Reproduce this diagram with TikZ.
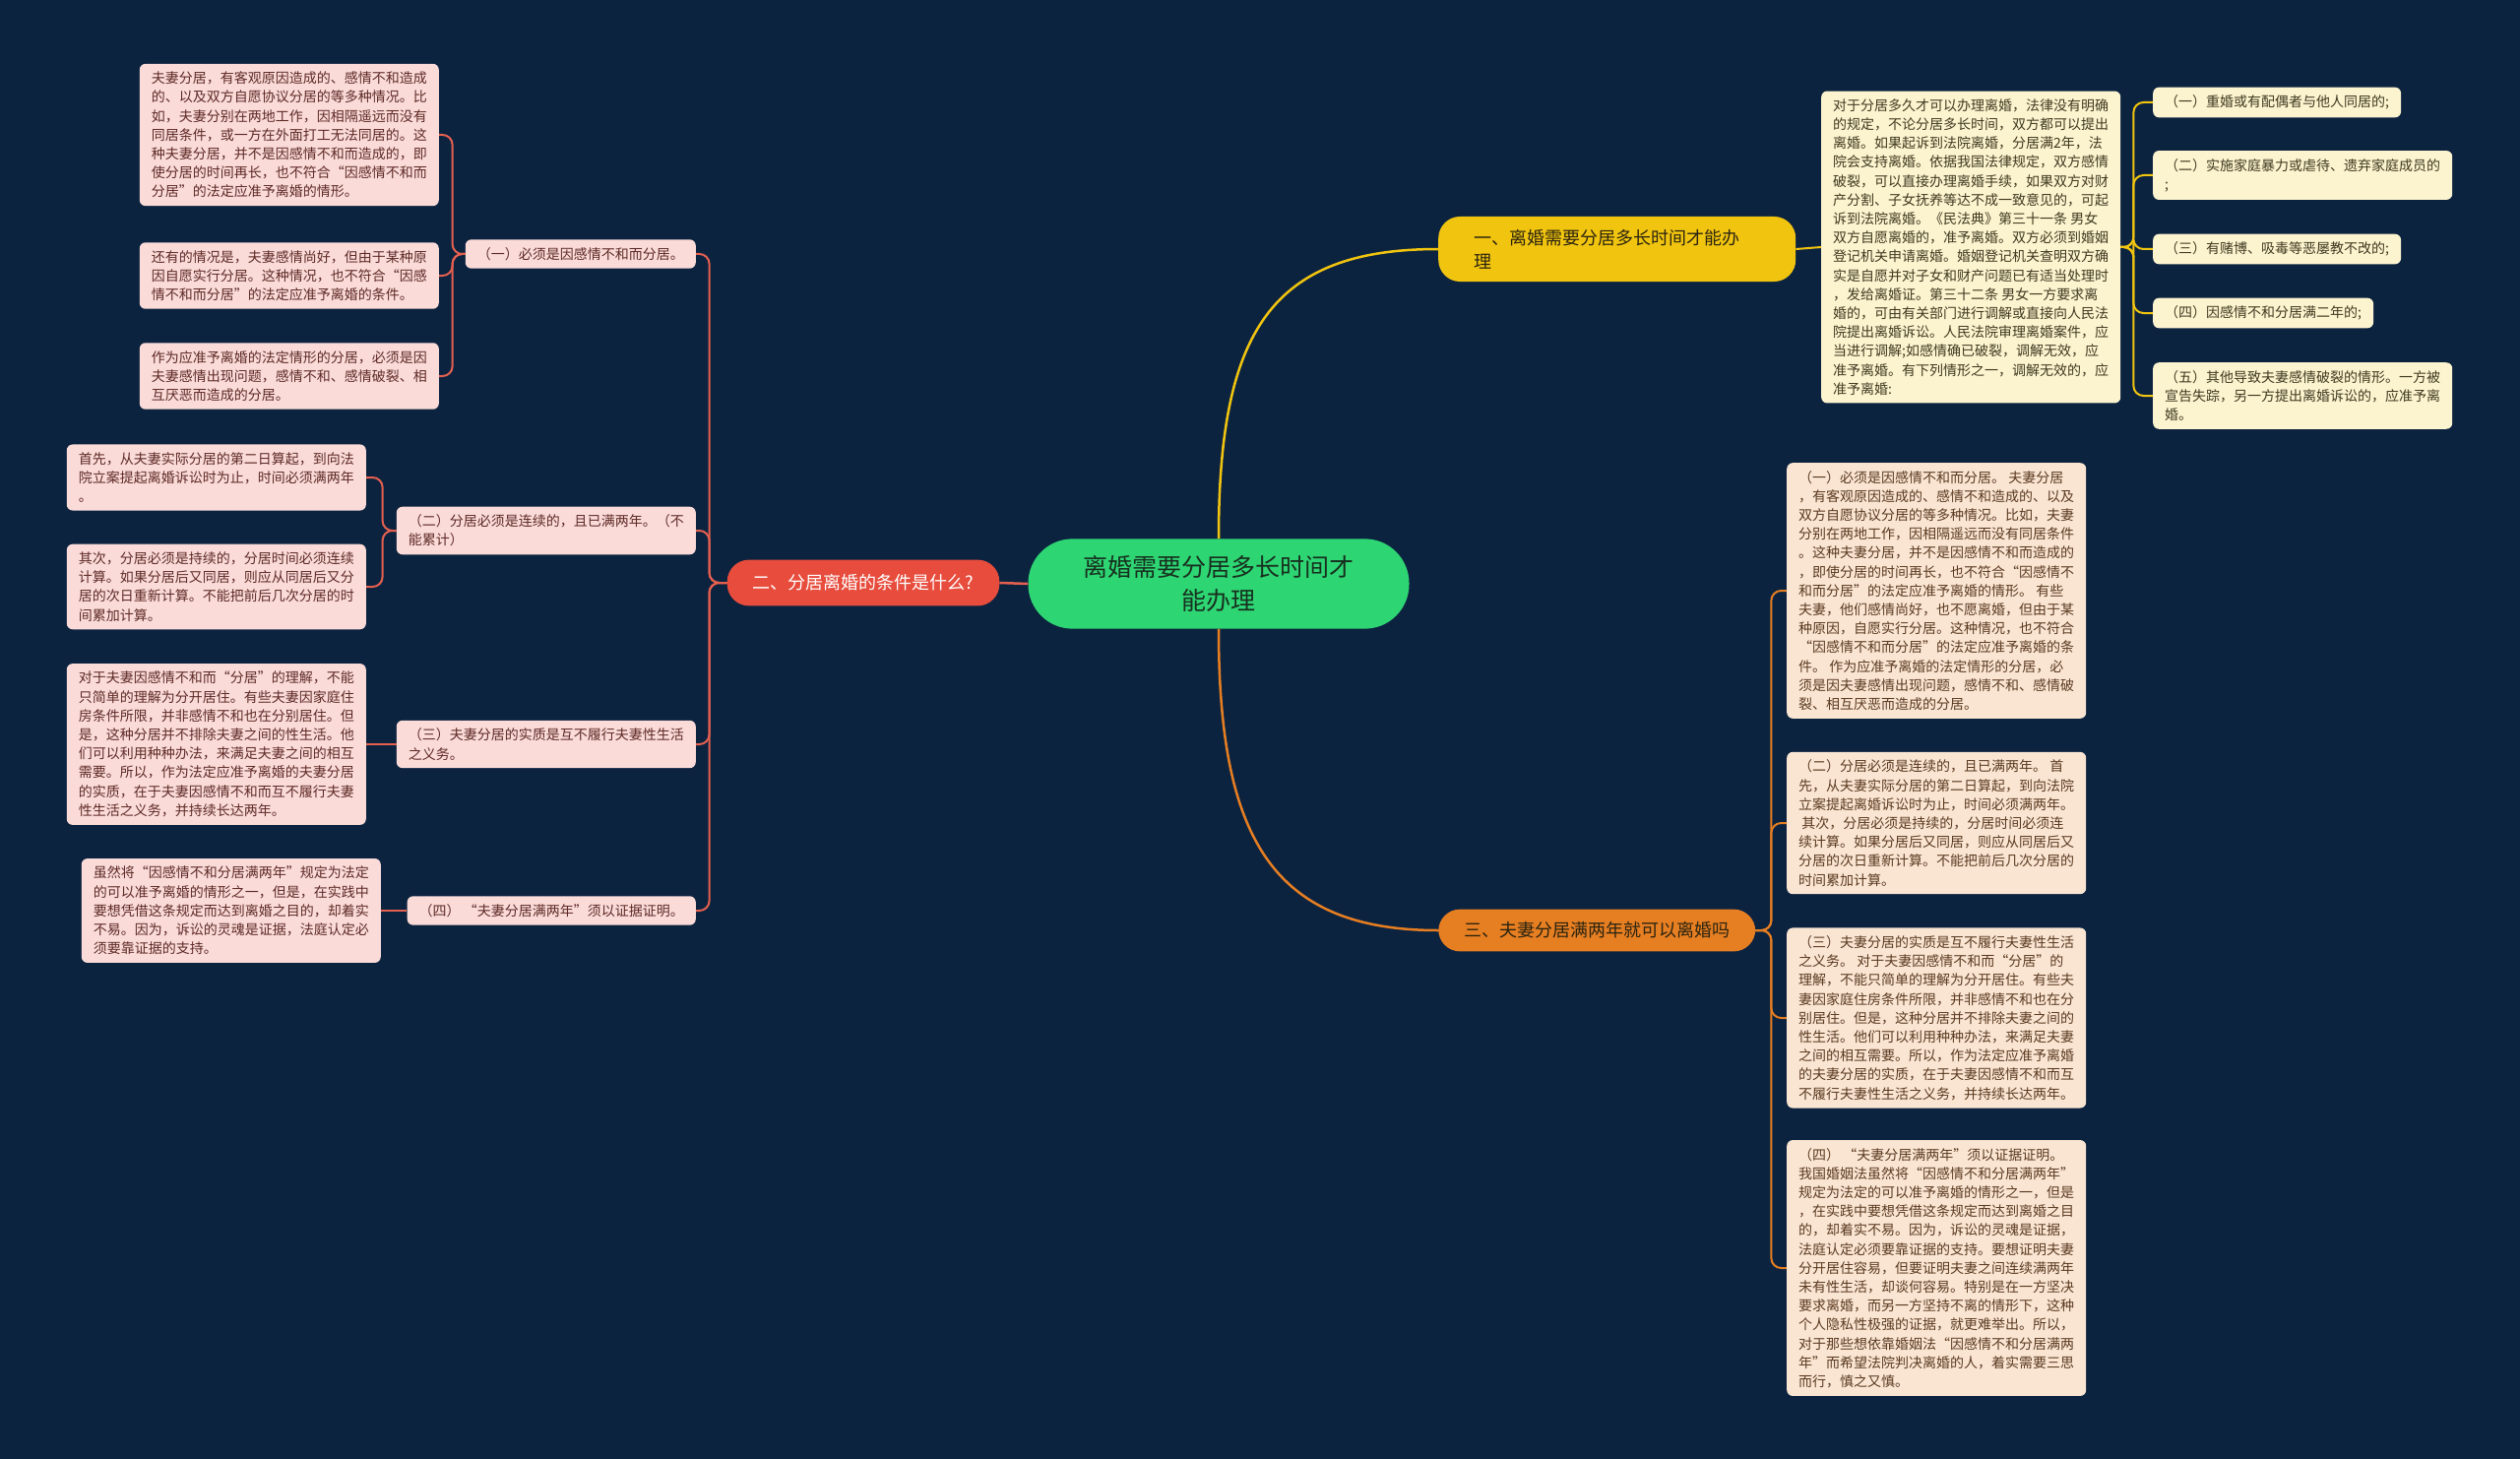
\documentclass[tikz,border=0pt]{standalone}
\usepackage{fontspec}
\setmainfont{Noto Sans CJK SC}
\usepackage{xcolor}
\usepackage{tikz}
\usetikzlibrary{positioning, calc}

\definecolor{bgnavy}{HTML}{0C2340}
\definecolor{rootgreen}{HTML}{2ED573}
\definecolor{rootink}{HTML}{17301F}
\definecolor{topicyellow}{HTML}{F1C40F}
\definecolor{topicred}{HTML}{E74C3C}
\definecolor{topicorange}{HTML}{E67E22}
\definecolor{topicink}{HTML}{2B2410}
\definecolor{fillpink}{HTML}{FADBD8}
\definecolor{fillcream}{HTML}{FCF3CF}
\definecolor{fillpeach}{HTML}{FAE5D3}
\definecolor{inkpink}{HTML}{5E2A26}
\definecolor{inkcream}{HTML}{3F3A20}
\definecolor{inkpeach}{HTML}{5A3A20}
\definecolor{linered}{HTML}{E4604F}

\begin{document}
\begin{tikzpicture}[x=1pt, y=-1pt,
    rootbox/.style={fill=rootgreen, text=rootink, rounded corners=45pt, align=center,
        inner xsep=56pt, inner ysep=17pt, font=\fontsize{25pt}{34pt}\selectfont},
    topicbox/.style={rounded corners=22pt, align=left, inner xsep=26pt, inner ysep=14pt,
        font=\fontsize{18pt}{24pt}\selectfont},
    notebox/.style={rounded corners=6pt, align=left, inner xsep=12pt, inner ysep=8pt,
        font=\fontsize{14pt}{19.2pt}\selectfont},
    pinkbox/.style={notebox, fill=fillpink, text=inkpink},
    creambox/.style={notebox, fill=fillcream, text=inkcream},
    peachbox/.style={notebox, fill=fillpeach, text=inkpeach},
    redline/.style={draw=linered, line width=2pt, rounded corners=10pt},
    yellowline/.style={draw=topicyellow, line width=2pt, rounded corners=10pt},
    orangeline/.style={draw=topicorange, line width=2pt, rounded corners=10pt}
]
    % Background
    \fill[bgnavy] (0,0) rectangle (2560,1482);

    % Root and topics
    \node[rootbox] (root) at (1238,593) {离婚需要分居多长时间才\\能办理};
    \node[topicbox, fill=topicyellow, text=topicink, text width=291pt, inner xsep=36pt,
        inner ysep=13pt, anchor=west] (b1) at (1461,253) {一、离婚需要分居多长时间才能办\\理};
    \node[topicbox, fill=topicred, text=white, inner ysep=15pt] (b2) at (877,592) {二、分居离婚的条件是什么?};
    \node[topicbox, fill=topicorange, text=topicink, inner ysep=13pt, anchor=west] (b3) at (1461,945) {三、夫妻分居满两年就可以离婚吗};

    \draw[topicyellow, line width=2.5pt] (root.north) .. controls +(0,-210) and +(-170,0) .. (b1.west);
    \draw[linered, line width=2.5pt] (root.west) -- (b2.east);
    \draw[topicorange, line width=2.5pt] (root.south) .. controls +(0,210) and +(-170,0) .. (b3.west);

    % Branch one
    \node[creambox, anchor=west] (t1) at (1850,251) {对于分居多久才可以办理离婚，法律没有明确\\的规定，不论分居多长时间，双方都可以提出\\离婚。如果起诉到法院离婚，分居满2年，法\\院会支持离婚。依据我国法律规定，双方感情\\破裂，可以直接办理离婚手续，如果双方对财\\产分割、子女抚养等达不成一致意见的，可起\\诉到法院离婚。《民法典》第三十一条 男女\\双方自愿离婚的，准予离婚。双方必须到婚姻\\登记机关申请离婚。婚姻登记机关查明双方确\\实是自愿并对子女和财产问题已有适当处理时\\，发给离婚证。第三十二条 男女一方要求离\\婚的，可由有关部门进行调解或直接向人民法\\院提出离婚诉讼。人民法院审理离婚案件，应\\当进行调解;如感情确已破裂，调解无效，应\\准予离婚。有下列情形之一，调解无效的，应\\准予离婚:};
    \node[creambox, anchor=west] (r1) at (2187,104) {（一）重婚或有配偶者与他人同居的;};
    \node[creambox, anchor=west] (r2) at (2187,178) {（二）实施家庭暴力或虐待、遗弃家庭成员的\\;};
    \node[creambox, anchor=west] (r3) at (2187,253) {（三）有赌博、吸毒等恶屡教不改的;};
    \node[creambox, anchor=west] (r4) at (2187,318) {（四）因感情不和分居满二年的;};
    \node[creambox, anchor=west] (r5) at (2187,402) {（五）其他导致夫妻感情破裂的情形。一方被\\宣告失踪，另一方提出离婚诉讼的，应准予离\\婚。};

    \draw[yellowline] (b1.east) -- (t1.west);
    \foreach \n in {r1,r2,r3,r4,r5}
        \draw[yellowline] (t1.east) -- ++(13,0) |- (\n.west);

    % Branch two
    \node[pinkbox, anchor=east] (l1) at (707,258) {（一）必须是因感情不和而分居。};
    \node[pinkbox, anchor=east] (l2) at (707,539) {（二）分居必须是连续的，且已满两年。（不\\能累计）};
    \node[pinkbox, anchor=east] (l3) at (707,756) {（三）夫妻分居的实质是互不履行夫妻性生活\\之义务。};
    \node[pinkbox, anchor=east] (l4) at (707,925) {（四） “夫妻分居满两年”须以证据证明。};

    \node[pinkbox, anchor=east] (l1a) at (446,137) {夫妻分居，有客观原因造成的、感情不和造成\\的、以及双方自愿协议分居的等多种情况。比\\如，夫妻分别在两地工作，因相隔遥远而没有\\同居条件，或一方在外面打工无法同居的。这\\种夫妻分居，并不是因感情不和而造成的，即\\使分居的时间再长，也不符合“因感情不和而\\分居”的法定应准予离婚的情形。};
    \node[pinkbox, anchor=east] (l1b) at (446,280) {还有的情况是，夫妻感情尚好，但由于某种原\\因自愿实行分居。这种情况，也不符合“因感\\情不和而分居”的法定应准予离婚的条件。};
    \node[pinkbox, anchor=east] (l1c) at (446,382) {作为应准予离婚的法定情形的分居，必须是因\\夫妻感情出现问题，感情不和、感情破裂、相\\互厌恶而造成的分居。};
    \node[pinkbox, anchor=east] (l2a) at (372,485) {首先，从夫妻实际分居的第二日算起，到向法\\院立案提起离婚诉讼时为止，时间必须满两年\\。};
    \node[pinkbox, anchor=east] (l2b) at (372,596) {其次，分居必须是持续的，分居时间必须连续\\计算。如果分居后又同居，则应从同居后又分\\居的次日重新计算。不能把前后几次分居的时\\间累加计算。};
    \node[pinkbox, anchor=east] (l3a) at (372,756) {对于夫妻因感情不和而“分居”的理解，不能\\只简单的理解为分开居住。有些夫妻因家庭住\\房条件所限，并非感情不和也在分别居住。但\\是，这种分居并不排除夫妻之间的性生活。他\\们可以利用种种办法，来满足夫妻之间的相互\\需要。所以，作为法定应准予离婚的夫妻分居\\的实质，在于夫妻因感情不和而互不履行夫妻\\性生活之义务，并持续长达两年。};
    \node[pinkbox, anchor=east] (l4a) at (387,925) {虽然将“因感情不和分居满两年”规定为法定\\的可以准予离婚的情形之一，但是，在实践中\\要想凭借这条规定而达到离婚之目的，却着实\\不易。因为，诉讼的灵魂是证据，法庭认定必\\须要靠证据的支持。};

    \foreach \n in {l1,l2,l3,l4}
        \draw[redline] (b2.west) -- ++(-18,0) |- (\n.east);
    \foreach \n in {l1a,l1b,l1c}
        \draw[redline] (l1.west) -- ++(-13,0) |- (\n.east);
    \foreach \n in {l2a,l2b}
        \draw[redline] (l2.west) -- ++(-14,0) |- (\n.east);
    \draw[redline] (l3.west) -- (l3a.east);
    \draw[redline] (l4.west) -- (l4a.east);

    % Branch three
    \node[peachbox, anchor=west] (s1) at (1815,600) {（一）必须是因感情不和而分居。 夫妻分居\\，有客观原因造成的、感情不和造成的、以及\\双方自愿协议分居的等多种情况。比如，夫妻\\分别在两地工作，因相隔遥远而没有同居条件\\。这种夫妻分居，并不是因感情不和而造成的\\，即使分居的时间再长，也不符合“因感情不\\和而分居”的法定应准予离婚的情形。 有些\\夫妻，他们感情尚好，也不愿离婚，但由于某\\种原因，自愿实行分居。这种情况，也不符合\\“因感情不和而分居”的法定应准予离婚的条\\件。 作为应准予离婚的法定情形的分居，必\\须是因夫妻感情出现问题，感情不和、感情破\\裂、相互厌恶而造成的分居。};
    \node[peachbox, anchor=west] (s2) at (1815,836) {（二）分居必须是连续的，且已满两年。 首\\先，从夫妻实际分居的第二日算起，到向法院\\立案提起离婚诉讼时为止，时间必须满两年。\\\ 其次，分居必须是持续的，分居时间必须连\\续计算。如果分居后又同居，则应从同居后又\\分居的次日重新计算。不能把前后几次分居的\\时间累加计算。};
    \node[peachbox, anchor=west] (s3) at (1815,1034) {（三）夫妻分居的实质是互不履行夫妻性生活\\之义务。 对于夫妻因感情不和而“分居”的\\理解，不能只简单的理解为分开居住。有些夫\\妻因家庭住房条件所限，并非感情不和也在分\\别居住。但是，这种分居并不排除夫妻之间的\\性生活。他们可以利用种种办法，来满足夫妻\\之间的相互需要。所以，作为法定应准予离婚\\的夫妻分居的实质，在于夫妻因感情不和而互\\不履行夫妻性生活之义务，并持续长达两年。};
    \node[peachbox, anchor=west] (s4) at (1815,1288) {（四） “夫妻分居满两年”须以证据证明。\\我国婚姻法虽然将“因感情不和分居满两年”\\规定为法定的可以准予离婚的情形之一，但是\\，在实践中要想凭借这条规定而达到离婚之目\\的，却着实不易。因为，诉讼的灵魂是证据，\\法庭认定必须要靠证据的支持。要想证明夫妻\\分开居住容易，但要证明夫妻之间连续满两年\\未有性生活，却谈何容易。特别是在一方坚决\\要求离婚，而另一方坚持不离的情形下，这种\\个人隐私性极强的证据，就更难举出。所以，\\对于那些想依靠婚姻法“因感情不和分居满两\\年”而希望法院判决离婚的人，着实需要三思\\而行，慎之又慎。};

    \foreach \n in {s1,s2,s3,s4}
        \draw[orangeline] (b3.east) -- ++(16,0) |- (\n.west);
\end{tikzpicture}
\end{document}
